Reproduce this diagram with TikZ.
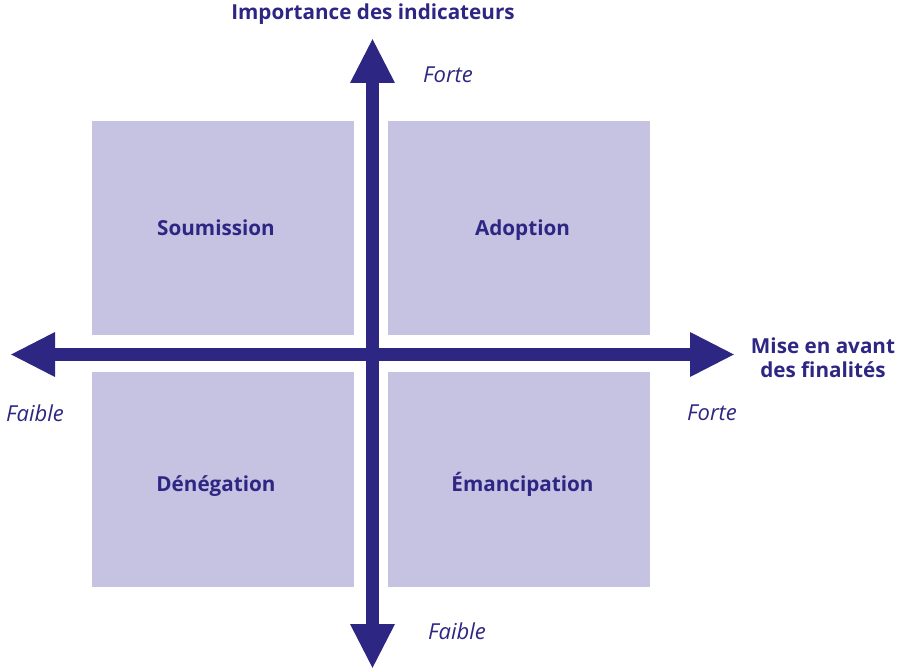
\documentclass[tikz,border=0pt]{standalone}
\usepackage{fontspec}
\setmainfont{Open Sans}
\usetikzlibrary{arrows.meta}
\definecolor{indigo}{HTML}{2E2683}
\definecolor{lavande}{HTML}{C6C2E2}
\begin{document}
\begin{tikzpicture}[x=0.75pt,y=-0.75pt,
    axis/.style={indigo,line width=9.75pt,{Triangle[length=33.75pt,width=31pt]}-{Triangle[length=33.75pt,width=31pt]}},
    quadrant/.style={fill=lavande,inner sep=0pt,minimum width=196.5pt,minimum height=160.75pt},
    quadlabel/.style={anchor=base,inner sep=0pt,text=indigo,font=\fontsize{15.5}{18}\selectfont\bfseries},
    axistitle/.style={text=indigo,font=\fontsize{15.5}{18}\selectfont\bfseries,inner sep=0pt},
    pole/.style={text=indigo,font=\fontsize{16.5}{18}\selectfont\itshape,inner sep=0pt}]
  \useasboundingbox (0,0) rectangle (897,670);
  % quadrants
  \node[quadrant] (soumission) at (223,228) {};
  \node[quadrant] (adoption) at (519,228) {};
  \node[quadrant] (denegation) at (223,479.5) {};
  \node[quadrant] (emancipation) at (519,479.5) {};
  \node[quadlabel] (soumissiontxt) at (216,236) {Soumission};
  \node[quadlabel] (adoptiontxt) at (522.5,236) {Adoption};
  \node[quadlabel] (denegationtxt) at (216,492) {Dénégation};
  \node[quadlabel] (emancipationtxt) at (522.5,492) {Émancipation};
  % axes
  \coordinate (haut) at (372.5,38);
  \coordinate (bas) at (372.5,669);
  \coordinate (gauche) at (10,354.5);
  \coordinate (droite) at (735,354.5);
  \draw[axis] (bas) -- (haut);
  \draw[axis] (gauche) -- (droite);
  % labels
  \node[axistitle] (titrey) at (373,14) {Importance des indicateurs};
  \node[axistitle,align=center] (titrex) at (823,358) {Mise en avant\\des finalités};
  \node[pole] (fortey) at (448,75) {Forte};
  \node[pole] (faibley) at (457,631) {Faible};
  \node[pole] (faiblex) at (35,413) {Faible};
  \node[pole] (fortex) at (712,413) {Forte};
\end{tikzpicture}
\end{document}
